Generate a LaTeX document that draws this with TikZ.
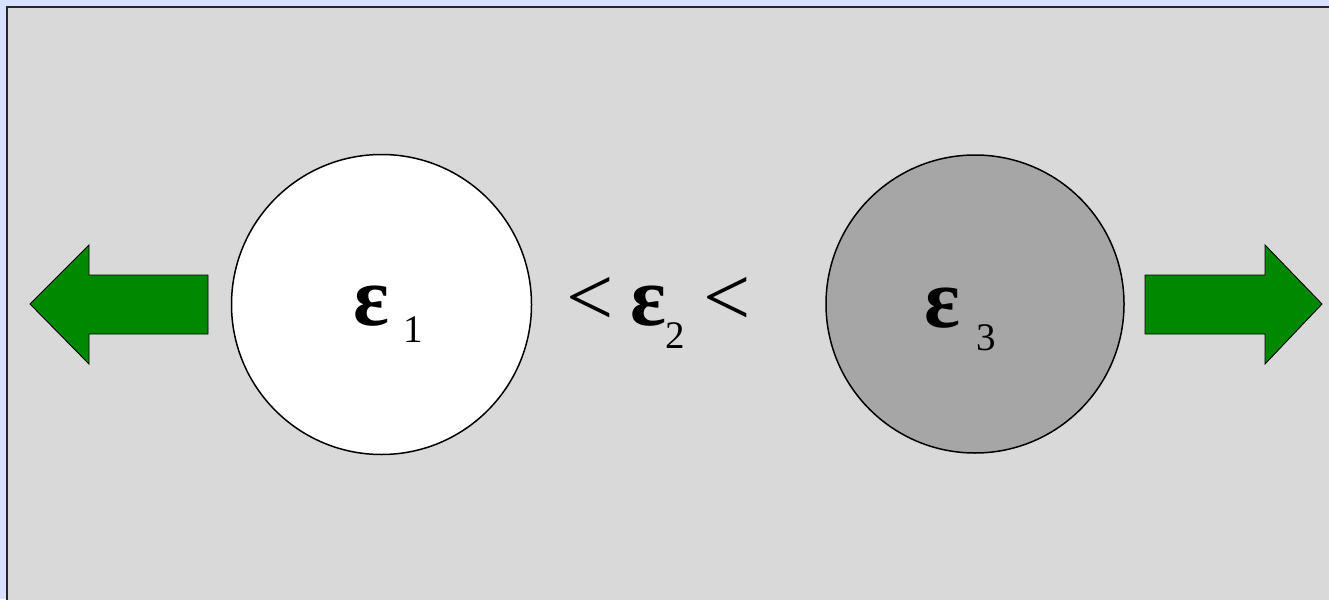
\documentclass[tikz,border=0pt]{standalone}
\usepackage{fontspec}
\setmainfont{Liberation Serif}
\definecolor{outerblue}{RGB}{214,226,255}
\definecolor{panelgray}{RGB}{217,217,217}
\definecolor{ballgray}{RGB}{166,166,166}
\definecolor{arrowgreen}{RGB}{0,136,0}
\tikzset{
  ball/.style={draw=black, line width=1.5pt},
  bigarrow/.style={fill=arrowgreen, draw=black, line width=0.9pt, line join=miter},
  bigtxt/.style={inner sep=0pt, anchor=base west, font=\fontsize{84}{96}\selectfont},
  epstxt/.style={inner sep=0pt, anchor=base west, font=\fontsize{84}{96}\selectfont\bfseries},
  subtxt/.style={inner sep=0pt, anchor=base west, font=\fontsize{39}{46}\selectfont}
}
\begin{document}
\begin{tikzpicture}[x=1pt,y=-1pt]
\useasboundingbox (0,0) rectangle (1329,599);
\fill[outerblue] (0,0) rectangle (1329,599);
\fill[panelgray] (7,7) rectangle (1340,610);
\draw[line width=1.6pt, black!85] (7,620) -- (7,7) -- (1340,7);
% circles
\path[ball, fill=white] (381.5,304.5) circle[radius=150];
\path[ball, fill=ballgray] (975,304) circle[radius=149];
% arrows
\path[bigarrow] (30,304) -- (89,245) -- (89,275) -- (208,275) -- (208,334) -- (89,334) -- (89,364) -- cycle;
\path[bigarrow] (1322,304) -- (1265,245) -- (1265,275) -- (1145,275) -- (1145,334) -- (1265,334) -- (1265,364) -- cycle;
% labels
\node[epstxt] (e1) at (353,325) {ε};
\node[subtxt] (s1) at (403,342) {1};
\node[bigtxt] (lt1) at (566,325) {<};
\node[epstxt] (e2) at (630,325) {ε};
\node[subtxt] (s2) at (665,348) {2};
\node[bigtxt] (lt2) at (703,325) {<};
\node[epstxt] (e3) at (924,327) {ε};
\node[subtxt] (s3) at (976,350) {3};
\end{tikzpicture}
\end{document}
